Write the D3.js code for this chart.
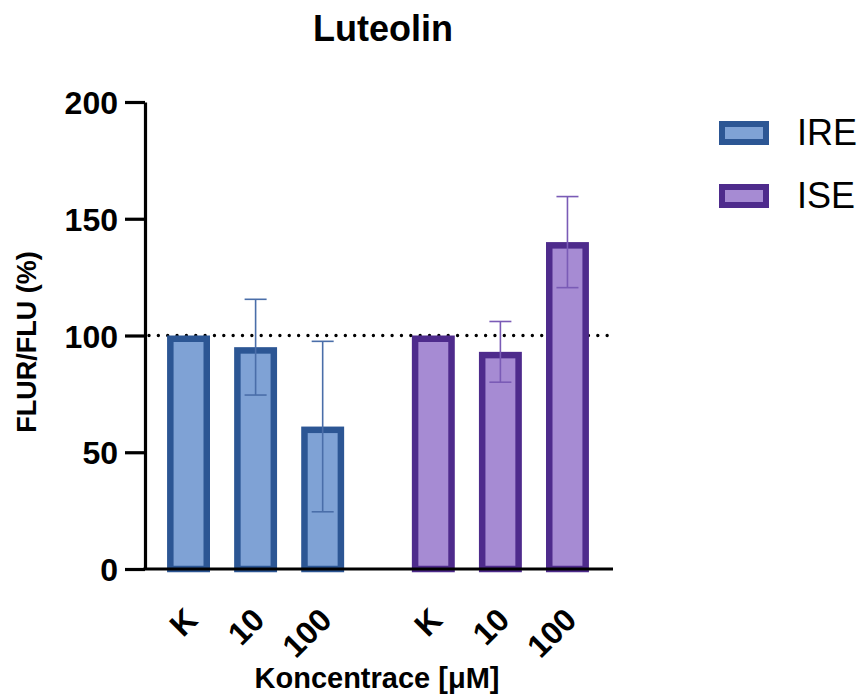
<!DOCTYPE html>
<html lang="en">
<head>
  <meta charset="UTF-8">
  <title>Luteolin</title>
  <style>
    body { margin: 0; background: #fff; }
    text { font-family: "Liberation Sans", Arial, sans-serif; fill: #000; }
  </style>
</head>
<body>
  <div id="chart"></div>
  <script src="https://d3js.org/d3.v7.min.js"></script>
  <script>
    // data
    const groups = ["IRE", "ISE"];
    const doses = ["K", "10", "100"];
    const ireMean = [100, 95, 61];
    const ireSD = [0, 20.5, 36.5];
    const iseMean = [100, 93, 140];
    const iseSD = [0, 13, 19.5];
    const yTicks = [0, 50, 100, 150, 200];

    const width = 862, height = 694;
    const colors = {
      IRE: { fill: "#7fa2d5", stroke: "#2c5694", err: "#4a6ea9" },
      ISE: { fill: "#a68bd3", stroke: "#4e2b8c", err: "#7a5bb6" }
    };

    const rows = [];
    groups.forEach(g => {
      const m = g === "IRE" ? ireMean : iseMean;
      const s = g === "IRE" ? ireSD : iseSD;
      doses.forEach((d, i) => rows.push({ group: g, dose: d, mean: m[i], sd: s[i] }));
    });

    const svg = d3.select("#chart").append("svg")
      .attr("width", width).attr("height", height);

    const x0 = 145, x1 = 613, yBase = 569, yTop = 102;
    const y = d3.scaleLinear().domain([0, 200]).range([yBase, yTop]);
    const xg = d3.scaleBand().domain(groups).range([155, 601]).paddingInner(0.178);
    const xd = d3.scaleBand().domain(doses).range([0, xg.bandwidth()])
      .paddingInner(0.36).paddingOuter(0.18);
    const bw = xd.bandwidth();
    const sw = 6.5;

    // dotted reference line at 100 %
    svg.append("line")
      .attr("x1", x0 + 4).attr("x2", x1)
      .attr("y1", y(100)).attr("y2", y(100))
      .attr("stroke", "#000").attr("stroke-width", 3.4)
      .attr("stroke-linecap", "round")
      .attr("stroke-dasharray", "0,9.35");

    // bars (border drawn inside the bar like Prism)
    svg.selectAll("rect.bar").data(rows).enter().append("rect")
      .attr("class", "bar")
      .attr("x", d => xg(d.group) + xd(d.dose) + sw / 2)
      .attr("y", d => y(d.mean) + sw / 2)
      .attr("width", bw - sw)
      .attr("height", d => yBase - y(d.mean) - sw / 2)
      .attr("fill", d => colors[d.group].fill)
      .attr("stroke", d => colors[d.group].stroke)
      .attr("stroke-width", sw);

    // error bars
    const errs = rows.filter(d => d.sd > 0);
    const cx = d => xg(d.group) + xd(d.dose) + bw / 2;
    const eg = svg.selectAll("g.err").data(errs).enter().append("g")
      .attr("stroke", d => colors[d.group].err).attr("stroke-width", 1.6);
    eg.append("line")
      .attr("x1", cx).attr("x2", cx)
      .attr("y1", d => y(d.mean + d.sd)).attr("y2", d => y(d.mean - d.sd));
    eg.append("line")
      .attr("x1", d => cx(d) - 11).attr("x2", d => cx(d) + 11)
      .attr("y1", d => y(d.mean + d.sd)).attr("y2", d => y(d.mean + d.sd));
    eg.append("line")
      .attr("x1", d => cx(d) - 11).attr("x2", d => cx(d) + 11)
      .attr("y1", d => y(d.mean - d.sd)).attr("y2", d => y(d.mean - d.sd));

    // y axis
    const yAxis = svg.append("g")
      .attr("transform", `translate(${x0},0)`)
      .call(d3.axisLeft(y).tickValues(yTicks).tickSize(20).tickSizeOuter(0).tickPadding(7));
    yAxis.select(".domain").attr("stroke-width", 3.2);
    yAxis.selectAll(".tick line").attr("stroke-width", 3.2);
    yAxis.selectAll(".tick text")
      .style("font-family", "'Liberation Sans', Arial, sans-serif")
      .style("font-size", "32px").style("font-weight", "bold")
      .attr("dy", "0.36em");

    // x axis line
    svg.append("line")
      .attr("x1", x0 - 1.6).attr("x2", x1)
      .attr("y1", yBase).attr("y2", yBase)
      .attr("stroke", "#000").attr("stroke-width", 3.2);

    // x tick labels, rotated
    svg.selectAll("text.xl").data(rows).enter().append("text")
      .attr("class", "xl")
      .attr("transform", d => `translate(${cx(d) - 5},${606}) rotate(-45)`)
      .attr("text-anchor", "end")
      .attr("dy", "0.7em")
      .style("font-size", "32px").style("font-weight", "bold")
      .text(d => d.dose);

    // titles
    svg.append("text")
      .attr("x", 383).attr("y", 41)
      .attr("text-anchor", "middle")
      .style("font-size", "36px").style("font-weight", "bold")
      .text("Luteolin");

    svg.append("text")
      .attr("x", 377).attr("y", 688)
      .attr("text-anchor", "middle")
      .style("font-size", "29px").style("font-weight", "bold")
      .text("Koncentrace [μM]");

    svg.append("text")
      .attr("transform", "translate(36,342) rotate(-90)")
      .attr("text-anchor", "middle")
      .style("font-size", "27px").style("font-weight", "bold")
      .text("FLUR/FLU (%)");

    // legend
    const leg = svg.selectAll("g.leg").data(groups).enter().append("g")
      .attr("transform", (d, i) => `translate(719,${121 + i * 63})`);
    leg.append("rect")
      .attr("x", 3).attr("y", 3).attr("width", 44).attr("height", 18)
      .attr("fill", d => colors[d].fill)
      .attr("stroke", d => colors[d].stroke).attr("stroke-width", 6);
    leg.append("text")
      .attr("x", 78).attr("y", 24)
      .style("font-size", "36px")
      .text(d => d);
  </script>
</body>
</html>
